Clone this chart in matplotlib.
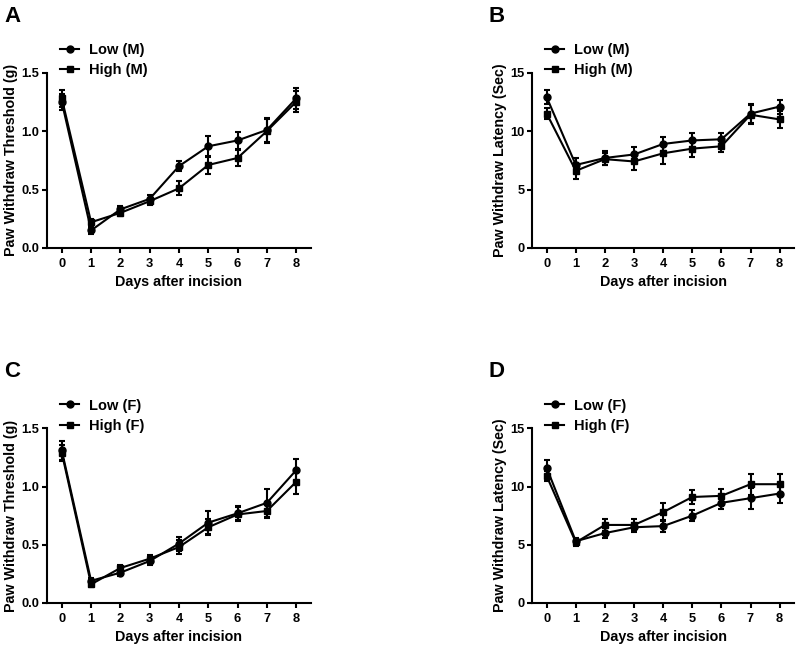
import matplotlib
matplotlib.use("Agg")
import matplotlib.pyplot as plt
import numpy as np

plt.rcParams["font.family"] = ["Liberation Sans", "DejaVu Sans"]
plt.rcParams["font.weight"] = "bold"
plt.rcParams["axes.labelweight"] = "bold"

days = [0, 1, 2, 3, 4, 5, 6, 7, 8]

# A: male, threshold
a_low = [1.25, 0.15, 0.33, 0.42, 0.70, 0.87, 0.92, 1.01, 1.28]
a_low_err = [0.07, 0.03, 0.03, 0.03, 0.04, 0.09, 0.07, 0.10, 0.09]
a_high = [1.28, 0.22, 0.30, 0.40, 0.51, 0.71, 0.77, 1.00, 1.25]
a_high_err = [0.07, 0.03, 0.03, 0.03, 0.06, 0.08, 0.07, 0.10, 0.09]

# B: male, latency
b_low = [12.9, 7.1, 7.7, 8.0, 8.9, 9.2, 9.3, 11.5, 12.1]
b_low_err = [0.6, 0.6, 0.6, 0.6, 0.6, 0.6, 0.5, 0.8, 0.6]
b_high = [11.5, 6.6, 7.6, 7.4, 8.1, 8.5, 8.7, 11.4, 11.0]
b_high_err = [0.5, 0.7, 0.5, 0.7, 0.9, 0.7, 0.5, 0.8, 0.7]

# C: female, threshold
c_low = [1.31, 0.19, 0.26, 0.36, 0.51, 0.69, 0.77, 0.86, 1.14]
c_low_err = [0.08, 0.02, 0.03, 0.03, 0.06, 0.10, 0.06, 0.12, 0.10]
c_high = [1.29, 0.16, 0.30, 0.38, 0.48, 0.65, 0.76, 0.79, 1.04]
c_high_err = [0.07, 0.02, 0.03, 0.03, 0.06, 0.07, 0.06, 0.06, 0.10]

# D: female, latency
d_low = [11.6, 5.3, 6.0, 6.5, 6.6, 7.5, 8.6, 9.0, 9.4]
d_low_err = [0.7, 0.3, 0.4, 0.4, 0.5, 0.5, 0.5, 0.9, 0.8]
d_high = [10.9, 5.2, 6.7, 6.7, 7.8, 9.1, 9.2, 10.2, 10.2]
d_high_err = [0.4, 0.3, 0.5, 0.5, 0.8, 0.6, 0.6, 0.9, 0.9]

panels = [
    ("A", [0.059, 0.618, 0.330, 0.270], a_low, a_low_err, a_high, a_high_err,
     "M", "Paw Withdraw Threshold (g)", 1.5, [0.0, 0.5, 1.0, 1.5], "{:.1f}"),
    ("B", [0.666, 0.618, 0.328, 0.270], b_low, b_low_err, b_high, b_high_err,
     "M", "Paw Withdraw Latency (Sec)", 15, [0, 5, 10, 15], "{:d}"),
    ("C", [0.059, 0.071, 0.330, 0.269], c_low, c_low_err, c_high, c_high_err,
     "F", "Paw Withdraw Threshold (g)", 1.5, [0.0, 0.5, 1.0, 1.5], "{:.1f}"),
    ("D", [0.666, 0.071, 0.328, 0.269], d_low, d_low_err, d_high, d_high_err,
     "F", "Paw Withdraw Latency (Sec)", 15, [0, 5, 10, 15], "{:d}"),
]

fig = plt.figure(figsize=(7.99, 6.49), dpi=100)

lw = 1.5
for letter, pos, low, low_err, high, high_err, sex, ylabel, ymax, yticks, fmt in panels:
    ax = fig.add_axes(pos)
    ax.errorbar(days, low, yerr=low_err, color="black", marker="o", markersize=5,
                linewidth=lw, elinewidth=lw, capsize=2.2, capthick=lw,
                label="Low (%s)" % sex)
    ax.errorbar(days, high, yerr=high_err, color="black", marker="s", markersize=5,
                linewidth=lw, elinewidth=lw, capsize=2.2, capthick=lw,
                label="High (%s)" % sex)
    ax.set_xlim(-0.5, 8.5)
    ax.set_ylim(0, ymax)
    ax.set_xticks(days)
    ax.set_yticks(yticks)
    ax.set_yticklabels([fmt.format(t) for t in yticks])
    ax.spines["top"].set_visible(False)
    ax.spines["right"].set_visible(False)
    ax.spines["left"].set_linewidth(lw)
    ax.spines["bottom"].set_linewidth(lw)
    ax.tick_params(width=lw, length=3.5, pad=2, labelsize=9.3)
    ax.tick_params(axis="x", pad=3.5)
    for lbl in ax.get_xticklabels() + ax.get_yticklabels():
        lbl.set_fontweight("bold")
    ax.set_xlabel("Days after incision", fontsize=10.3, fontweight="bold", labelpad=4)
    ax.set_ylabel(ylabel, fontsize=10.3, fontweight="bold", labelpad=2.5)
    handles, labels = ax.get_legend_handles_labels()
    handles = [h[0] for h in handles]
    ax.legend(handles, labels, loc="lower left", bbox_to_anchor=(0.05, 0.975),
              frameon=False, handlelength=1.3, handletextpad=0.65,
              labelspacing=0.42, borderaxespad=0.0, borderpad=0.0,
              prop={"weight": "bold", "size": 10.5})
    fig.text(pos[0] - 0.054, pos[1] + pos[3] + 0.087, letter, fontsize=16,
             fontweight="bold", ha="left", va="center")

fig.savefig("out.png", dpi=100)
